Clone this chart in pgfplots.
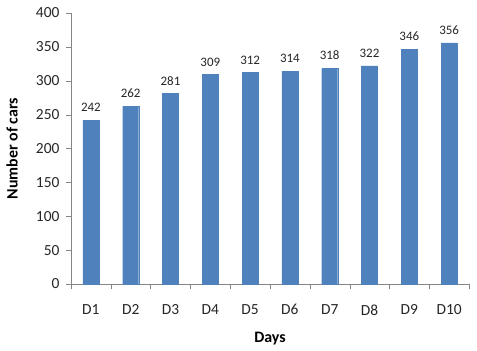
\documentclass[border=0pt]{standalone}
\usepackage{fontspec}
\setmainfont{Carlito}
\usepackage{pgfplots}
\pgfplotsset{compat=1.18}
\usetikzlibrary{calc}
\definecolor{barblue}{HTML}{4F81BD}
\definecolor{axisgray}{HTML}{868686}
\begin{document}
\begin{tikzpicture}
\begin{axis}[
  scale only axis,
  width=398bp, height=271bp,
  xmin=-0.5, xmax=9.5,
  ymin=0, ymax=400,
  ytick={0,50,...,400},
  xtick={0,...,9},
  xticklabels={D1,D2,D3,D4,D5,D6,D7,D8,D9,D10},
  minor xtick={-0.5,0.5,...,9.5},
  major x tick style={draw=none},
  minor tick length=5bp,
  major tick length=5bp,
  tick align=outside,
  tick pos=left,
  axis x line*=bottom,
  axis y line*=left,
  axis line style={axisgray},
  tick style={axisgray},
  every tick label/.append style={font=\fontsize{15.5}{16}\selectfont, text=black!85},
  xticklabel style={yshift=-12bp},
  yticklabel style={xshift=-3bp},
  /pgf/number format/assume math mode=true,
  xlabel={\textbf{Days}},
  ylabel={\textbf{Number of cars}},
  label style={font=\fontsize{16}{17}\selectfont},
  xlabel style={at={(axis description cs:0.5,-0.2)}, anchor=center},
  ylabel style={at={(axis description cs:-0.148,0.5)}, anchor=center},
  ybar, bar width=16bp,
  nodes near coords,
  every node near coord/.append style={font=\fontsize{13}{14}\selectfont, text=black!85, yshift=5bp},
  clip=false,
]
\addplot[fill=barblue, draw=barblue] coordinates {
(0,242) (1,262) (2,281) (3,309) (4,312) (5,314) (6,318) (7,322) (8,346) (9,356)};
\coordinate (o) at (rel axis cs:0,0);
\end{axis}
\pgfresetboundingbox
\path[use as bounding box] ($(o)+(-71bp,-67bp)$) rectangle ($(o)+(406bp,284bp)$);
\end{tikzpicture}
\end{document}
